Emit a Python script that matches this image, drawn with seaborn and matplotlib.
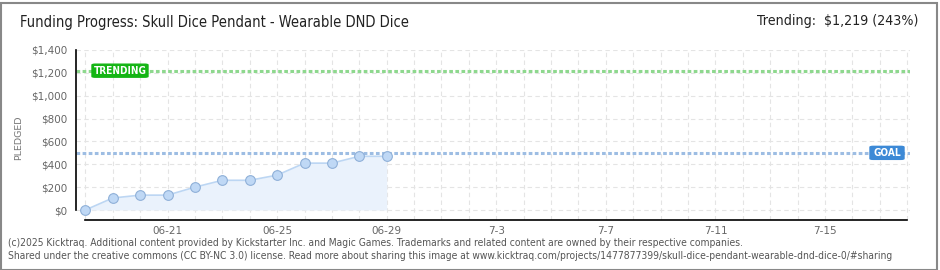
import matplotlib
matplotlib.use("Agg")
import matplotlib.pyplot as plt
import matplotlib.ticker as mticker
from matplotlib.patches import FancyBboxPatch, Rectangle
import seaborn as sns
import pandas as pd
import numpy as np

# ---- data ----
dates = ["06-18", "06-19", "06-20", "06-21", "06-22", "06-23", "06-24",
         "06-25", "06-26", "06-27", "06-28", "06-29"]
pledged = [0, 105, 130, 130, 200, 260, 260, 305, 410, 410, 470, 470]
goal = 500
trending = 1219
tick_labels = ["06-21", "06-25", "06-29", "7-3", "7-7", "7-11", "7-15"]
tick_days = [3, 7, 11, 15, 19, 23, 27]
n_days = 30

title = "Funding Progress: Skull Dice Pendant - Wearable DND Dice"
trend_text = "Trending:  $1,219 (243%)"
footer1 = "(c)2025 Kicktraq. Additional content provided by Kickstarter Inc. and Magic Games. Trademarks and related content are owned by their respective companies."
footer2 = "Shared under the creative commons (CC BY-NC 3.0) license. Read more about sharing this image at www.kicktraq.com/projects/1477877399/skull-dice-pendant-wearable-dnd-dice-0/#sharing"

df = pd.DataFrame({"day": np.arange(len(pledged)), "pledged": pledged})

sns.set_style("white")
plt.rcParams['font.family'] = ['DejaVu Sans']
COND = dict(family=["DejaVu Sans"], stretch="condensed")

W, H = 940, 270
fig = plt.figure(figsize=(W / 100, H / 100), dpi=100)
ax = fig.add_axes([76 / W, (H - 220) / H, (910 - 76) / W, 170 / H])

x0 = -0.34
x1 = 30.1
ax.set_xlim(x0, x1)
y_per_px = 1400 / 160
ax.set_ylim(-10 * y_per_px, 1400)

# grid
for d in range(0, n_days + 1):
    ax.axvline(d, color="#e4e4e4", lw=0.8, ls=(0, (4, 3)), zorder=0)
for v in range(0, 1401, 200):
    ax.axhline(v, color="#e4e4e4", lw=0.8, ls=(0, (4, 3)), zorder=0)

# area + line
ax.fill_between(df["day"], 0, df["pledged"], color="#eaf2fc", zorder=1, lw=0)
sns.lineplot(data=df, x="day", y="pledged", ax=ax, color="#bcd6f3", lw=1.2,
             marker="o", markersize=7, markerfacecolor="#bfd8f5",
             markeredgecolor="#8fb0d8", markeredgewidth=0.8, zorder=3)

# goal and trending lines
ax.axhline(goal, color="#9dbde3", lw=2.2, ls=(0, (1.2, 0.8)), zorder=2)
ax.axhline(trending, color="#8ed88e", lw=2.2, ls=(0, (1.2, 0.8)), zorder=2)

px_per_day = (910 - 76) / (x1 - x0)

def label_box(xc_px, yc, text, color, w_px):
    xd = x0 + (xc_px - 76) / px_per_day
    wd = w_px / px_per_day
    hd = 13 * y_per_px
    box = FancyBboxPatch((xd - wd / 2, yc - hd / 2), wd, hd,
                         boxstyle="round,pad=0,rounding_size=0.12",
                         mutation_aspect=60,
                         facecolor=color, edgecolor=color, zorder=5)
    ax.add_patch(box)
    ax.text(xd, yc, text, color="white", fontsize=7.2, ha="center", va="center",
            zorder=6, fontweight="bold", **COND)

label_box(120, trending, "TRENDING", "#14b514", 56)
label_box(887, goal, "GOAL", "#3c89d6", 34)

# axes styling
for s in ["top", "right"]:
    ax.spines[s].set_visible(False)
ax.spines["left"].set_bounds(0, 1400)
ax.spines["left"].set_color("black")
ax.spines["left"].set_linewidth(1.2)
ax.spines["bottom"].set_bounds(0, n_days)
ax.spines["bottom"].set_linewidth(1.2)
ax.spines["bottom"].set_color("black")

ax.yaxis.set_major_locator(mticker.MultipleLocator(200))
ax.yaxis.set_minor_locator(mticker.MultipleLocator(100))
ax.yaxis.set_major_formatter(mticker.FuncFormatter(lambda v, p: f"${int(v):,}"))
ax.tick_params(axis="y", which="major", direction="inout", length=6, width=1,
               color="black", labelsize=7.5, labelcolor="#666666", pad=3)
ax.tick_params(axis="y", which="minor", direction="out", length=3, width=1,
               color="#e00000")

ax.set_xticks(tick_days)
ax.set_xticklabels(tick_labels)
ax.xaxis.set_minor_locator(mticker.FixedLocator(range(0, n_days + 1)))
ax.tick_params(axis="x", which="both", direction="inout", length=6, width=1,
               color="black", labelsize=7.5, labelcolor="#666666", pad=1)
ax.set_xlabel("")
ax.set_ylabel("PLEDGED", fontsize=6.8, color="#777777", family=["DejaVu Sans"])
ax.yaxis.set_label_coords(-(76 - 23) / (910 - 76), 82 / 170)

# texts
fig.text(20 / W, 1 - 23 / H, title, fontsize=10.5, color="#222222", va="center", ha="left", **COND)
fig.text(918 / W, 1 - 21 / H, trend_text, fontsize=10.2, color="#222222", va="center", ha="right", **COND)
fig.text(8 / W, 1 - 243 / H, footer1, fontsize=7.4, color="#555555", va="center", ha="left", **COND)
fig.text(8 / W, 1 - 256 / H, footer2, fontsize=7.4, color="#555555", va="center", ha="left", **COND)

# border
fig.add_artist(Rectangle((0.5 / W, 0.5 / H), (W - 4) / W, (H - 3) / H,
                         transform=fig.transFigure, fill=False,
                         edgecolor="#888888", lw=1.5))

fig.savefig("out.png", dpi=100)
